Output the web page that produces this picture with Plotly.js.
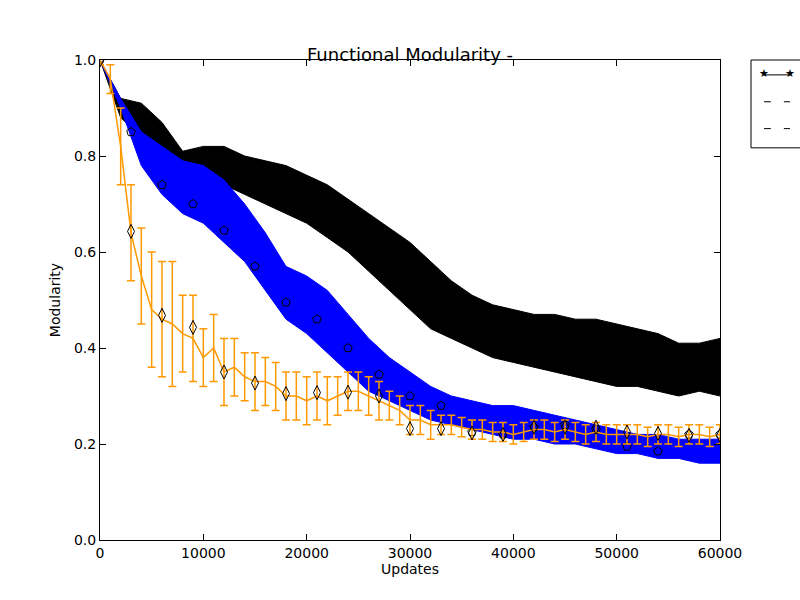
<!DOCTYPE html>
<html>
<head>
<script src="https://cdn.plot.ly/plotly-3.0.1.min.js"></script>
<style>body{margin:0}</style>
</head>
<body>
<div id="chart" style="width:800px;height:600px"></div>
<script>
// band samples (every 2000 updates)
const bandX = [0,2000,4000,6000,8000,10000,12000,14000,16000,18000,20000,22000,24000,26000,28000,30000,
  32000,34000,36000,38000,40000,42000,44000,46000,48000,50000,52000,54000,56000,58000,60000];
const blackHi = [1.0,0.92,0.91,0.87,0.81,0.82,0.82,0.80,0.79,0.78,0.76,0.74,0.71,0.68,0.65,0.62,
  0.58,0.54,0.51,0.49,0.48,0.47,0.47,0.46,0.46,0.45,0.44,0.43,0.41,0.41,0.42];
const blackLo = [1.0,0.88,0.84,0.80,0.77,0.76,0.74,0.72,0.70,0.68,0.66,0.63,0.60,0.56,0.52,0.48,
  0.44,0.42,0.40,0.38,0.37,0.36,0.35,0.34,0.33,0.32,0.32,0.31,0.30,0.31,0.30];
const blueHi = [1.0,0.92,0.85,0.82,0.79,0.78,0.75,0.70,0.64,0.57,0.55,0.52,0.47,0.42,0.38,0.35,
  0.32,0.30,0.29,0.28,0.28,0.27,0.26,0.25,0.24,0.23,0.22,0.22,0.21,0.21,0.21];
const blueLo = [1.0,0.90,0.78,0.72,0.68,0.66,0.62,0.58,0.52,0.46,0.43,0.39,0.35,0.31,0.29,0.27,
  0.25,0.24,0.23,0.22,0.21,0.21,0.20,0.20,0.19,0.18,0.18,0.17,0.17,0.16,0.16];

// marker samples (every 3000 updates)
const markX = [0,3000,6000,9000,12000,15000,18000,21000,24000,27000,30000,33000,36000,39000,42000,
  45000,48000,51000,54000,57000,60000];
const blueMark = [1.0,0.85,0.74,0.70,0.645,0.57,0.495,0.46,0.40,0.345,0.30,0.28,0.225,0.22,0.235,
  0.24,0.23,0.195,0.185,0.22,0.22];
const orangeMark = [1.0,0.643,0.468,0.443,0.35,0.327,0.305,0.307,0.308,0.30,0.232,0.232,0.223,0.22,
  0.235,0.235,0.235,0.225,0.222,0.218,0.218];

// orange mean and error (every 1000 updates)
const orangeX = [];
for (let i = 0; i <= 60; i++) orangeX.push(i * 1000);
const orangeY = [1.0,0.96,0.82,0.64,0.55,0.48,0.46,0.45,0.43,0.42,0.38,0.40,0.35,0.36,0.34,0.33,
  0.33,0.32,0.30,0.30,0.29,0.30,0.29,0.30,0.31,0.31,0.30,0.29,0.28,0.27,0.25,0.25,0.24,0.24,0.24,
  0.235,0.23,0.23,0.225,0.225,0.22,0.225,0.23,0.23,0.225,0.23,0.225,0.22,0.225,0.22,0.22,0.22,
  0.22,0.215,0.22,0.22,0.215,0.22,0.22,0.215,0.22];
const orangeErr = [0.01,0.03,0.08,0.10,0.10,0.12,0.12,0.13,0.08,0.09,0.06,0.07,0.07,0.06,0.05,0.06,
  0.05,0.05,0.05,0.05,0.05,0.05,0.05,0.04,0.04,0.04,0.04,0.04,0.03,0.03,0.03,0.03,0.03,0.02,0.02,
  0.02,0.02,0.02,0.02,0.02,0.02,0.02,0.02,0.02,0.02,0.02,0.02,0.02,0.02,0.02,0.02,0.02,0.02,0.02,
  0.02,0.02,0.02,0.02,0.02,0.02,0.02];

function band(hi, lo, color) {
  return [
    { x: bandX, y: lo, mode: "lines", line: { color: color, width: 1 }, showlegend: false, hoverinfo: "skip" },
    { x: bandX, y: hi, mode: "lines", fill: "tonexty", fillcolor: color, line: { color: color, width: 1 }, showlegend: false, hoverinfo: "skip" },
  ];
}

const data = [
  ...band(blackHi, blackLo, "#000000"),
  ...band(blueHi, blueLo, "#0000ff"),
  { x: markX, y: blueMark, mode: "markers", marker: { symbol: "pentagon-open", size: 9, color: "#000000" }, showlegend: false },
  {
    x: orangeX, y: orangeY, mode: "lines", line: { color: "#ff9900", width: 1.5 },
    error_y: { type: "data", array: orangeErr, color: "#ff9900", thickness: 1.5, width: 4 },
    showlegend: false,
  },
  { x: markX, y: orangeMark, mode: "markers", marker: { symbol: "diamond-tall-open", size: 10, color: "#000000" }, showlegend: false },
];

const axis = {
  showgrid: false, zeroline: false, showline: true, linecolor: "#000", linewidth: 1, mirror: "ticks",
  ticks: "inside", ticklen: 6, tickcolor: "#000", tickfont: { size: 14, color: "#000" },
};

const star = (x) => ({
  xref: "paper", yref: "paper", x: x, y: 0.969, xanchor: "center", yanchor: "middle",
  text: "★", showarrow: false, font: { size: 11 }, yshift: 1,
});

const layout = {
  width: 800, height: 600,
  margin: { l: 100, r: 80, t: 60, b: 60 },
  font: { family: "DejaVu Sans", color: "#000" },
  paper_bgcolor: "#fff", plot_bgcolor: "#fff",
  title: { text: "Functional Modularity -", font: { size: 18 }, x: 0.5, xref: "paper", y: 0.92 },
  xaxis: { ...axis, range: [0, 60000], dtick: 10000, tickformat: "d", title: { text: "Updates", font: { size: 14 }, standoff: 4 } },
  yaxis: { ...axis, range: [0, 1], dtick: 0.2, tickformat: ".1f", title: { text: "Modularity", font: { size: 14 }, standoff: 10 } },
  shapes: [
    { type: "rect", xref: "paper", yref: "paper", x0: 1.05, x1: 1.2, y0: 0.817, y1: 1.0, line: { color: "#000", width: 1 } },
    { type: "line", xref: "paper", yref: "paper", x0: 1.071, x1: 1.113, y0: 0.969, y1: 0.969, line: { color: "#000", width: 1 } },
    { type: "line", xref: "paper", yref: "paper", x0: 1.071, x1: 1.082, y0: 0.913, y1: 0.913, line: { color: "#000", width: 1 } },
    { type: "line", xref: "paper", yref: "paper", x0: 1.103, x1: 1.113, y0: 0.913, y1: 0.913, line: { color: "#000", width: 1 } },
    { type: "line", xref: "paper", yref: "paper", x0: 1.071, x1: 1.082, y0: 0.857, y1: 0.857, line: { color: "#000", width: 1 } },
    { type: "line", xref: "paper", yref: "paper", x0: 1.103, x1: 1.113, y0: 0.857, y1: 0.857, line: { color: "#000", width: 1 } },
  ],
  annotations: [star(1.071), star(1.113)],
};

Plotly.newPlot("chart", data, layout, { staticPlot: true });
</script>
</body>
</html>
